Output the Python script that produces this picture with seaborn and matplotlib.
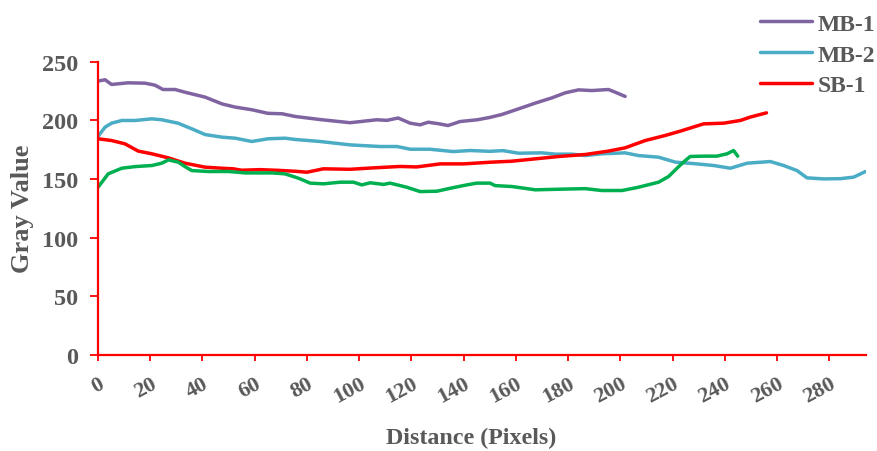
import matplotlib
matplotlib.use("Agg")
import matplotlib.pyplot as plt
import seaborn as sns
import pandas as pd
from matplotlib.lines import Line2D

# ---- data ----
mb1_x = [0, 2.7, 5.2, 11.5, 18, 21.8, 24.9, 29.5, 33.3, 41, 47.5, 52.5, 59, 65, 70.5, 75.5,
         85, 96.5, 106.7, 110.6, 114.9, 119.5, 123.3, 126.4, 130.2, 134, 138.6, 145.2, 150,
         154.6, 161, 167.4, 173.8, 178.9, 184, 189, 195.4, 198, 201.8]
mb1_y = [233.5, 234.6, 230.6, 232, 231.7, 230, 226.3, 226.3, 224, 219.8, 214, 211.3, 209, 206,
         205.6, 203.3, 200.7, 198, 200.5, 200, 202, 197.6, 196.2, 198.4, 197.2, 195.6, 199,
         200.5, 202.5, 205, 209.8, 214.7, 219.2, 223.5, 226, 225.4, 226.3, 224, 220.4]

mb2_x = [0, 2.7, 5.2, 9.1, 14.2, 20.6, 24.4, 30.6, 35.9, 41, 47.4, 52.5, 58.9, 65.1, 71.6, 75.5,
         85, 96.5, 108, 114.5, 119.5, 127, 136, 142.5, 150, 155, 161, 169.9, 175, 181.4, 186.5,
         192.9, 201.8, 206.9, 214.6, 221, 229.3, 235.7, 242.1, 248.5, 257.4, 262.5, 267.6,
         271.4, 277.8, 284.2, 289.3, 293.8]
mb2_y = [186.3, 194.2, 197.6, 199.9, 199.9, 201.3, 200.5, 197.6, 192.8, 187.9, 185.7, 184.8, 182,
         184.3, 184.8, 183.7, 182, 179.1, 177.7, 177.7, 175.4, 175.4, 173.4, 174.3, 173.6, 174.2,
         172, 172.3, 171.2, 171.2, 170, 171.5, 172.3, 170, 168.6, 164.4, 162.9, 161.5, 159.2,
         163.5, 164.9, 161.5, 157.2, 151, 150.1, 150.3, 151.6, 156.4]

sb1_x = [0, 5.2, 10.3, 15.4, 20.6, 27, 33.3, 41, 47.4, 51.8, 55, 62, 69, 75.5, 80, 86.3, 96.5,
         105.4, 115.6, 122, 131, 140, 150, 158.5, 167.4, 176.4, 186.5, 195.4, 201.8, 209.5,
         217.1, 222.9, 231.8, 239.5, 245.9, 249.7, 255.9]
sb1_y = [184.3, 182.8, 180, 173.8, 171.5, 168, 163.5, 160.1, 159.2, 158.7, 157.5, 158, 157.4,
         156.6, 155.8, 158.7, 158.3, 159.5, 160.7, 160.3, 162.9, 162.9, 164.3, 165.2, 167.2,
         169.2, 170.9, 173.8, 176.6, 182.8, 187.1, 190.8, 197, 197.6, 199.9, 202.8, 206.4]

grn_x = [0, 3.9, 9.1, 14.2, 20.6, 24.4, 27, 30.8, 33.3, 35.9, 42.4, 50, 56.4, 66.6, 71.6, 75.5,
         77.4, 81.2, 86.3, 92.7, 97.8, 101, 104.2, 109.3, 111.8, 118.2, 123.3, 129.7, 134.8,
         141.2, 145, 150.1, 152, 158.5, 167.4, 176.4, 186.5, 192.9, 200.6, 206.9, 214.6, 218.4,
         222.3, 224.8, 226.7, 231.8, 236.9, 240.8, 243.3, 244.9]
grn_y = [143, 154.4, 159.2, 160.6, 161.5, 163.5, 166.3, 164.3, 160.6, 157.2, 156.4, 156.4, 155.2,
         155.2, 154.4, 151.6, 150.1, 146.5, 145.9, 147.3, 147.3, 145, 146.8, 145.4, 146.5, 143,
         139.3, 139.6, 142.1, 145, 146.5, 146.5, 144.4, 143.6, 140.8, 141.3, 141.8, 140.2, 140.2,
         143, 147.3, 152.1, 160.6, 165.7, 169.2, 169.5, 169.5, 171.5, 174.3, 169.5]

series_names = ["MB-1", "MB-2", "SB-1"]
x_ticks = [0, 20, 40, 60, 80, 100, 120, 140, 160, 180, 200, 220, 240, 260, 280]
y_ticks = [0, 50, 100, 150, 200, 250]
x_label = "Distance (Pixels)"
y_label = "Gray Value"

# ---- style ----
sns.set_theme(style="ticks")
plt.rcParams["font.family"] = ["Liberation Serif", "DejaVu Serif"]
plt.rcParams["font.weight"] = "bold"
TXT = "#595959"
AXC = "#FF0000"
colors = {"MB-1": "#8064A2", "MB-2": "#4BACC6", "SB-1": "#FF0000", "G": "#00B050"}
LW = 2.5

fig = plt.figure(figsize=(8.78, 4.52), dpi=100)
ax = fig.add_axes([98 / 878, 1 - 356 / 452, (866 - 98) / 878, (356 - 62.7) / 452])

sns.lineplot(x=mb1_x, y=mb1_y, ax=ax, color=colors["MB-1"], lw=LW, legend=False)
sns.lineplot(x=mb2_x, y=mb2_y, ax=ax, color=colors["MB-2"], lw=LW, legend=False)
sns.lineplot(x=sb1_x, y=sb1_y, ax=ax, color=colors["SB-1"], lw=LW, legend=False)
sns.lineplot(x=grn_x, y=grn_y, ax=ax, color=colors["G"], lw=LW, legend=False)

ax.set_xlim(0, 294)
ax.set_ylim(0, 250)
ax.set_xticks(x_ticks)
ax.set_yticks(y_ticks)
ax.set_xticklabels([str(v) for v in x_ticks], rotation=28, ha="right",
                   rotation_mode="anchor", fontsize=16, color=TXT, fontweight="bold")
ax.set_yticklabels([str(v) for v in y_ticks], fontsize=17.5, color=TXT, fontweight="bold")

for s in ["top", "right"]:
    ax.spines[s].set_visible(False)
for s in ["left", "bottom"]:
    ax.spines[s].set_color(AXC)
    ax.spines[s].set_linewidth(1.6)
ax.tick_params(axis="y", colors=AXC, labelcolor=TXT, length=5.5, width=1.3, pad=9, direction="out")
ax.tick_params(axis="x", colors=AXC, labelcolor=TXT, length=4.3, width=1.3, pad=9, direction="out")

ax.set_xlabel(x_label, fontsize=17.3, color=TXT, fontweight="bold", va="center")
ax.set_ylabel(y_label, fontsize=19, color=TXT, fontweight="bold", va="center")
ax.xaxis.set_label_coords((471 - 98) / 768, (356 - 438) / 293.3)
ax.yaxis.set_label_coords((22 - 98) / 768, (356 - 209) / 293.3)

handles = [Line2D([], [], color=colors[n], lw=LW) for n in series_names]
leg = fig.legend(handles, series_names, loc="upper left",
                 bbox_to_anchor=(760 / 878, 1 - 14 / 452), bbox_transform=fig.transFigure,
                 frameon=False, borderpad=0, borderaxespad=0, handlelength=2.2,
                 handletextpad=0.25, labelspacing=0.4,
                 prop={"family": "Liberation Serif", "weight": "bold", "size": 17})
for t in leg.get_texts():
    t.set_color(TXT)

fig.savefig("out.png", dpi=100)
